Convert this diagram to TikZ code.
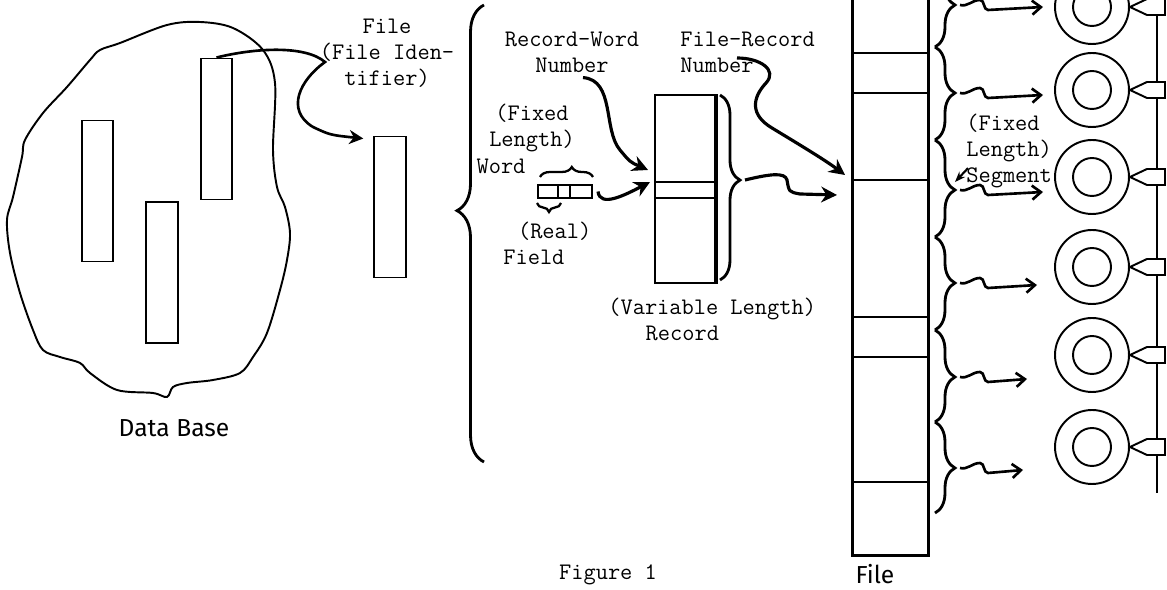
\documentclass[tikz,border=0pt]{standalone}
\usepackage{fontspec}
\newfontfamily\handfont{Fira Sans}
\usetikzlibrary{arrows.meta,decorations.pathreplacing}

\tikzset{
  bar/.style={draw, line width=1.1pt, minimum width=0.63cm, minimum height=2.82cm, inner sep=0pt},
  lbl/.style={font=\ttfamily\fontsize{13.5}{14.7}\selectfont, inner sep=0pt},
  hand/.style={font=\handfont\fontsize{14}{16}\selectfont, inner sep=0pt},
  brc/.style={line width=1.6pt, decorate, decoration={brace, amplitude=0.4cm, aspect=#1}},
  brc/.default=0.5,
  bigarr/.style={line width=1.8pt, -{Stealth[length=9pt,width=9pt]}},
  wig/.style={line width=1.5pt, -{Straight Barb[length=5pt,width=8pt]}},
  disk/.style={circle, draw, line width=1.1pt, minimum size=1.48cm, inner sep=0pt},
  hub/.style={circle, draw, line width=1.1pt, minimum size=0.76cm, inner sep=0pt},
}

\begin{document}
\begin{tikzpicture}[x=0.02cm, y=-0.02cm]
\useasboundingbox (0,0) rectangle (1167,590);
\clip (0,0) rectangle (1167,590);

% data base
\draw[line width=1.1pt] plot[smooth cycle, tension=0.55] coordinates {(120,43) (167,25) (200,22) (233,28) (263,50) (275,83) (273,150) (277,187) (285,207) (290,233) (287,260) (280,290) (267,333) (253,357) (240,373) (213,380) (187,383) (173,387) (167,397) (153,393) (117,390) (90,373) (80,363) (60,357) (43,350) (33,330) (20,293) (10,253) (7,220) (13,197) (22,157) (25,140) (43,113) (67,87) (90,60) (100,50)};
\node[bar] (ra) at (97.5,191) {};
\node[bar] (rb) at (162,272.5) {};
\node[bar] (rc) at (216.5,129) {};
\node[hand] (dblabel) at (174,428) {Data Base};

% file
\node[bar] (fid) at (390,207) {};
\node[lbl, align=center] (fidlabel) at (387,53) {File\\(File Iden-\\tifier)};
\draw[line width=1.5pt, -{Stealth[length=8pt,width=8pt]}] (rc.north) .. controls (255,48) and (305,45) .. (325,62) .. controls (300,80) and (285,110) .. (313,127) .. controls (330,135) .. ([shift={(-0.2cm,-0.06cm)}]fid.north west);
\draw[line width=1.6pt, decorate, decoration={brace, amplitude=0.54cm, aspect=0.55}] (484,462) -- (484,5);

% word and field
\node[draw, line width=1.1pt, minimum width=1.08cm, minimum height=0.26cm, inner sep=0pt] (word) at (565,191.5) {};
\draw[line width=1.1pt] ([xshift=-0.14cm]word.north) -- ([xshift=-0.14cm]word.south)
  ([xshift=0.1cm]word.north) -- ([xshift=0.1cm]word.south);
\draw[line width=1.3pt, decorate, decoration={brace, amplitude=0.2cm, aspect=0.6}] (540,177) -- (593,177);
\draw[line width=1.3pt, decorate, decoration={brace, amplitude=0.18cm}] (561,203) -- (537,203);
\node[lbl, align=center] (fixlabel) at (532,128) {(Fixed\\Length)};
\node[lbl] (wlabel) at (501,166) {Word};
\node[lbl, align=left, anchor=west] (realflabel) at (503,243.5) {\hspace*{0.62em}(Real)\\Field};

% record
\node[draw, line width=1.1pt, minimum width=1.2cm, minimum height=3.76cm, inner sep=0pt] (rec) at (685,189) {};
\draw[line width=1.1pt] ([yshift=0.14cm]rec.west) -- ([yshift=0.14cm]rec.east)
  ([yshift=-0.18cm]rec.west) -- ([yshift=-0.18cm]rec.east);
\draw[line width=2.2pt] (rec.north east) -- (rec.south east);
\draw[brc=0.46] (720,95) -- (720,280);
\coordinate (rectip) at (740,180);
\node[lbl, align=left, anchor=west] (vrlabel) at (608,319.5) {(Variable Length)\\\hspace*{1.575em}Record};
\node[lbl, align=center] (rwlabel) at (572,52) {Record-Word\\Number};
\node[lbl, align=left, anchor=west] (frlabel) at (680,52) {File-Record\\Number};

% file column
\node[minimum width=1.5cm, minimum height=11.2cm, inner sep=0pt] (filecol) at (890.5,275) {};
\draw[line width=1.6pt] (filecol.north west) -- (filecol.south west) -- (filecol.south east) -- (filecol.north east);
\foreach \y in {53,93,180,317,357,482}
  \draw[line width=1.4pt] (853,\y) -- (928,\y);
\node[hand] (filelabel) at (875,574) {File};
\coordinate (fin1) at (845,175);
\coordinate (fin2) at (837,195);

\draw[bigarr] ([xshift=0.22cm,yshift=-0.1cm]rwlabel.south) .. controls (615,80) and (603,130) .. (620,150) .. controls (630,162) .. ([shift={(-0.12cm,0.38cm)}]rec.west);
\draw[bigarr] ([xshift=0.1cm]word.east) .. controls (600,208) and (625,195) .. ([shift={(-0.08cm,0.14cm)}]rec.west);
\draw[bigarr] ([xshift=0.1cm]rectip) .. controls (770,174) and (785,172) .. (787,180) .. controls (789,192) .. (800,194) -- (fin2);
\draw[bigarr] ([shift={(1.14cm,-0.12cm)}]frlabel.west) .. controls (760,58) and (778,70) .. (766,83) .. controls (752,98) and (750,115) .. (772,128) .. controls (800,145) and (825,160) .. (fin1);

% segments
\foreach \ya/\yb/\yt [count=\i] in {-40/47/5, 47/140/93, 140/237/190, 237/330/283, 330/422/377, 422/513/468} {
  \pgfmathsetmacro\asp{(\yt-\ya)/(\yb-\ya)}
  \draw[brc=\asp] (935,\ya) -- (935,\yb);
  \coordinate (s\i) at (955,\yt);
}
\foreach \i/\len in {1/55,2/55,3/55,4/49,5/39,6/35}
  \draw[wig] ([xshift=0.1cm]s\i) to[out=-15,in=180] ++(20,-5) to[out=0,in=180] ++(8,10) -- ++(\len,-3);
\node[lbl, align=left, anchor=west] (seglabel) at (966,151) {(Fixed\\Length)\\Segment};
\draw[line width=1.2pt, -{Stealth[length=6pt]}] ([shift={(0.04cm,0.4cm)}]seglabel.south west) -- ([yshift=0.16cm]s3);

% disks
\draw[line width=1.4pt] (1157,0) -- (1157,493);
\foreach \y [count=\i] in {7,90,177,267,355,447} {
  \node[disk] (d\i) at (1092,\y) {};
  \node[hub] (h\i) at (d\i) {};
  \draw[line width=1.1pt, fill=white] (d\i.east) -- ++(17,-8) -- ++(18,0) -- ++(0,16) -- ++(-18,0) -- cycle;
}

\node[lbl] (figlabel) at (608,575) {Figure 1};
\end{tikzpicture}
\end{document}
